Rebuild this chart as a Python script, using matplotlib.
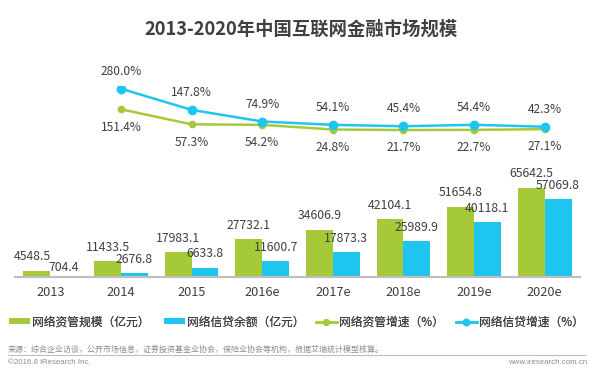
import matplotlib
matplotlib.use("Agg")
import matplotlib.pyplot as plt
from matplotlib.patches import Patch
from matplotlib.lines import Line2D
import numpy as np

plt.rcParams['font.family'] = ['Noto Sans CJK SC', 'DejaVu Sans']

categories = ['2013', '2014', '2015', '2016e', '2017e', '2018e', '2019e', '2020e']
asset_mgmt = [4548.5, 11433.5, 17983.1, 27732.1, 34606.9, 42104.1, 51654.8, 65642.5]
credit = [704.4, 2676.8, 6633.8, 11600.7, 17873.3, 25989.9, 40118.1, 57069.8]
growth_years = ['2014', '2015', '2016e', '2017e', '2018e', '2019e', '2020e']
asset_growth = [151.4, 57.3, 54.2, 24.8, 21.7, 22.7, 27.1]
credit_growth = [280.0, 147.8, 74.9, 54.1, 45.4, 54.4, 42.3]
legend_labels = ['网络资管规模（亿元）', '网络信贷余额（亿元）', '网络资管增速（%）', '网络信贷增速（%）']

GREEN = '#A6C939'
BLUE = '#1EC5EE'
TXT = '#3F3F3F'

W, H = 598, 379
fig = plt.figure(figsize=(W / 100, H / 100), dpi=100)
fig.patch.set_facecolor('white')

def fx(px):
    return px / W

def fy(py):
    return 1 - py / H

# Bar axes
left_px, right_px = 15, 580
base_px, top_px = 276.7, 276.7 - 95.1
axb = fig.add_axes([fx(left_px), fy(base_px), (right_px - left_px) / W, (base_px - top_px) / H])
x = np.arange(len(categories))
bw = 0.38
b1 = axb.bar(x - bw / 2, asset_mgmt, bw, color=GREEN, zorder=2)
b2 = axb.bar(x + bw / 2, credit, bw, color=BLUE, zorder=2)
axb.set_xlim(-0.5, len(categories) - 0.5)
axb.set_ylim(0, 70000)
for s in ['top', 'right', 'left']:
    axb.spines[s].set_visible(False)
axb.spines['bottom'].set_color('#BFBFBF')
axb.spines['bottom'].set_linewidth(1.6)
axb.set_yticks([])
axb.set_xticks(x)
axb.set_xticklabels(categories, fontsize=9.2, color=TXT)
axb.tick_params(axis='x', length=0, pad=7)
axb.patch.set_alpha(0)
for i, (rects, vals) in enumerate(((b1, asset_mgmt), (b2, credit))):
    for j, (r, v) in enumerate(zip(rects, vals)):
        dx, dy = 0, 10
        if j == 0 and i == 0:
            dx = -3
        if j == 0 and i == 1:
            dy = 6
        axb.annotate(f'{v:.1f}', (r.get_x() + r.get_width() / 2, r.get_height()),
                     xytext=(dx, dy), textcoords='offset points', ha='center', va='center',
                     fontsize=8.8, color=TXT, zorder=3)

# Line axes
zero_px = 133.5
axl = fig.add_axes([fx(left_px), fy(zero_px), (right_px - left_px) / W, 48 / H])
xl = np.array([categories.index(c) for c in growth_years])
axl.plot(xl, credit_growth, color=BLUE, lw=1.8, marker='o', ms=6, zorder=3)
axl.plot(xl, asset_growth, color=GREEN, lw=1.8, marker='o', ms=4.5, zorder=2)
axl.set_xlim(-0.5, len(categories) - 0.5)
axl.set_ylim(0, 300)
axl.axis('off')
for xi, v in zip(xl, credit_growth):
    axl.annotate(f'{v:.1f}%', (xi, v), xytext=(0, 12.6), textcoords='offset points',
                 ha='center', va='center', fontsize=8.6, color=TXT)
for xi, v in zip(xl, asset_growth):
    axl.annotate(f'{v:.1f}%', (xi, v), xytext=(0, -12.8), textcoords='offset points',
                 ha='center', va='center', fontsize=8.6, color=TXT)

# Title
fig.text(fx(301), fy(29.3), '2013-2020年中国互联网金融市场规模', ha='center', va='center',
         fontsize=13.2, fontweight='bold', color='#404040')

# Legend (one entry per legend to place each precisely)
handles = [
    Patch(facecolor=GREEN, edgecolor='none'),
    Patch(facecolor=BLUE, edgecolor='none'),
    Line2D([], [], color=GREEN, lw=1.8, marker='o', ms=4),
    Line2D([], [], color=BLUE, lw=1.8, marker='o', ms=4.5),
]
leg_x = [9.3, 164.3, 316, 456]
for h, lab, lx in zip(handles, legend_labels, leg_x):
    leg = fig.legend([h], [lab], loc='center left', bbox_to_anchor=(fx(lx), fy(322)),
                     frameon=False, fontsize=8.5, handlelength=1.75, handleheight=0.45,
                     handletextpad=0.2, borderaxespad=0, borderpad=0)
    for t in leg.get_texts():
        t.set_color(TXT)
    fig.add_artist(leg)

# Source and footer
fig.text(fx(8), fy(349.3), '来源：综合企业访谈，公开市场信息，证券投资基金业协会，保险业协会等机构，根据艾瑞统计模型核算。',
         ha='left', va='center', fontsize=5.75, color='#8C8C8C')
fig.add_artist(Line2D([fx(8), fx(585)], [fy(354.5), fy(354.5)], color='#BFBFBF', lw=0.8))
fig.text(fx(8), fy(362.7), '©2016.8 iResearch Inc.', ha='left', va='center', fontsize=5.7,
         color='#8C8C8C', family=['Liberation Sans', 'DejaVu Sans'])
fig.text(fx(587), fy(362.7), 'www.iresearch.com.cn', ha='right', va='center', fontsize=5.7,
         color='#8C8C8C', family=['Liberation Sans', 'DejaVu Sans'])

fig.savefig('out.png', dpi=100, facecolor='white')
